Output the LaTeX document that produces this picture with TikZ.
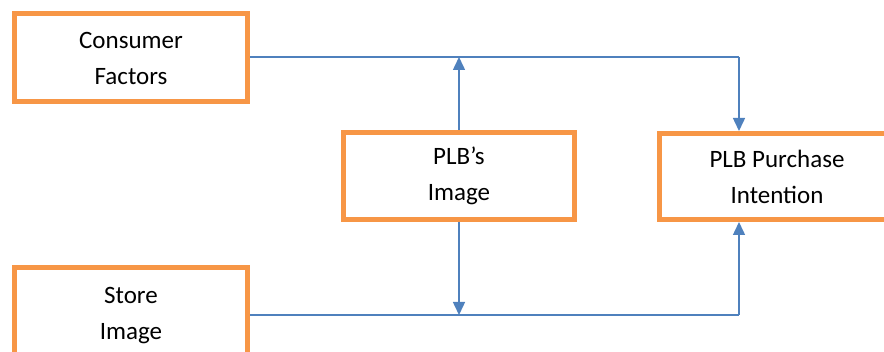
\documentclass[tikz,border=0pt]{standalone}
\usepackage{fontspec}
\setmainfont{Carlito}
\usetikzlibrary{arrows.meta}
\definecolor{boxorange}{HTML}{F79646}
\definecolor{linkblue}{HTML}{4F81BD}
\begin{document}
\begin{tikzpicture}[x=1pt,y=-1pt,
  factor/.style={draw=boxorange,line width=5pt,fill=white,rectangle,
    align=center,inner sep=0pt,font=\fontsize{25}{36}\selectfont},
  conn/.style={draw=linkblue,line width=1.5pt},
  arr/.style={conn,-{Triangle[length=13pt,width=12pt]}}]
\useasboundingbox (0,0) rectangle (884,352);
\begin{scope}
\clip (0,0) rectangle (884,352);
\node[factor,minimum width=233pt,minimum height=88pt] (cf) at (131,58) {Consumer\\Factors};
\node[factor,minimum width=231pt,minimum height=87pt] (pi) at (459,176) {PLB’s\\Image};
\node[factor,minimum width=235pt,minimum height=86pt] (pp) at (777,176.5) {PLB Purchase\\Intention};
\node[factor,minimum width=233pt,minimum height=97pt] (si) at (131,316) {Store\\Image};
\end{scope}
\coordinate (tr) at (739,57);
\coordinate (br) at (739,315);
\draw[conn] (cf.east |- tr) -- (tr);
\draw[arr] (tr) -- (tr |- pp.north);
\draw[arr] (pi.north) -- (pi.north |- tr);
\draw[conn] (si.east |- br) -- (br);
\draw[arr] (br) -- (br |- pp.south);
\draw[arr] (pi.south) -- (pi.south |- br);
\end{tikzpicture}
\end{document}
